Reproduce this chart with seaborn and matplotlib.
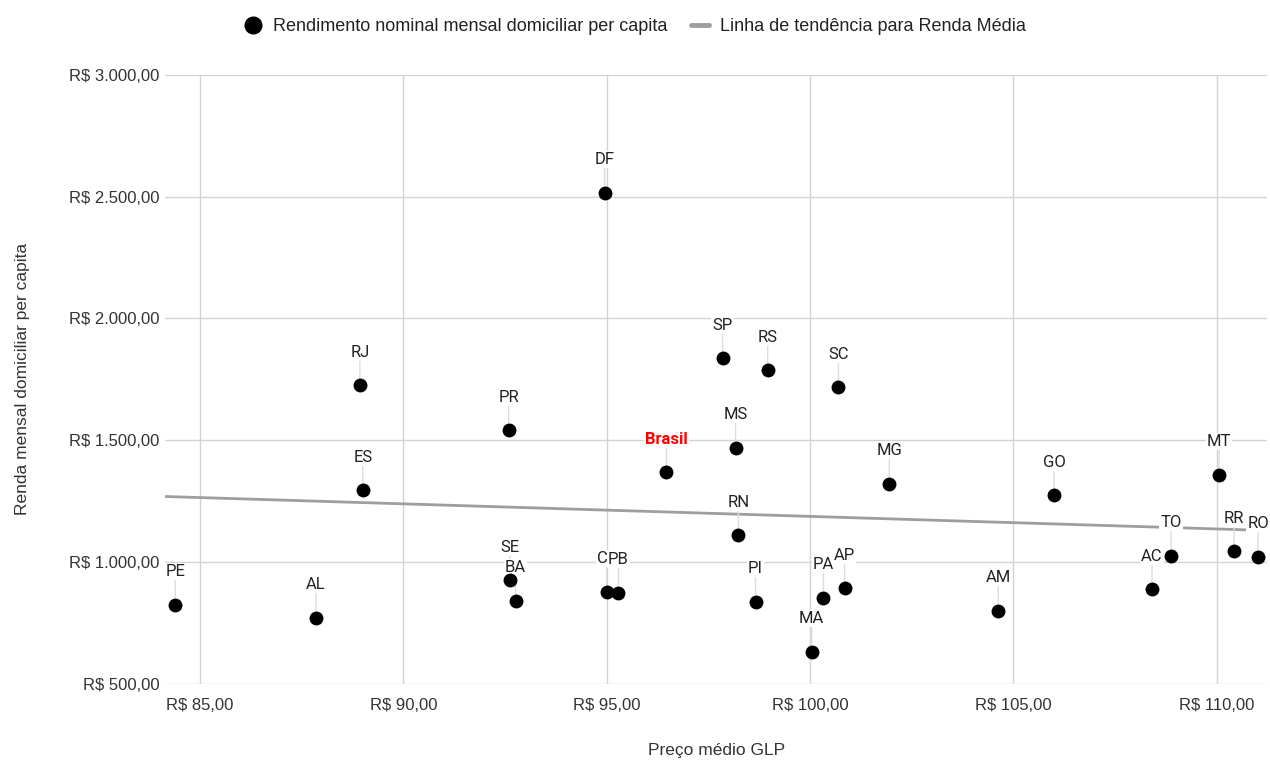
import numpy as np
import pandas as pd
import matplotlib
matplotlib.use("Agg")
import matplotlib.pyplot as plt
from matplotlib.ticker import FuncFormatter
from matplotlib.lines import Line2D
import seaborn as sns

# Dados
estados = ["PE", "AL", "RJ", "ES", "SE", "BA", "PR", "DF", "CE", "PB", "Brasil",
           "SP", "MS", "RN", "PI", "RS", "MA", "PA", "AP", "SC", "MG", "AM",
           "GO", "AC", "TO", "MT", "RR", "RO"]
preco_glp = [84.39, 87.85, 88.93, 89.00, 92.62, 92.76, 92.59, 94.95, 95.00, 95.29, 96.47,
             97.85, 98.17, 98.24, 98.66, 98.96, 100.04, 100.33, 100.85, 100.70, 101.95, 104.63,
             106.00, 108.41, 108.88, 110.06, 110.43, 111.02]
renda = [825, 771, 1725, 1294, 924, 841, 1540, 2515, 878, 874, 1368,
         1836, 1470, 1109, 837, 1787, 632, 854, 891, 1717, 1322, 800,
         1273, 887, 1026, 1359, 1043, 1022]

df = pd.DataFrame({"estado": estados, "preco": preco_glp, "renda": renda})

sns.set_style("white")
plt.rcParams["font.family"] = ["Liberation Sans", "DejaVu Sans"]

fig = plt.figure(figsize=(12.7, 7.6), dpi=100)
ax = fig.add_axes([0.130, 0.1004, 0.868, 0.8009])

xmin, xmax = 84.14, 111.25
ax.set_xlim(xmin, xmax)
ax.set_ylim(500, 3000)

# linha de tendência (regressão linear)
coef = np.polyfit(df["preco"], df["renda"], 1)
xs = np.array([xmin, xmax])
trend = pd.DataFrame({"x": xs, "y": np.polyval(coef, xs)})
sns.lineplot(data=trend, x="x", y="y", color="#9e9e9e", linewidth=2, ax=ax, zorder=2)

sns.scatterplot(data=df, x="preco", y="renda", color="black", s=100,
                edgecolor="black", linewidth=0, ax=ax, zorder=4)

for _, r in df.iterrows():
    brasil = r["estado"] == "Brasil"
    ax.annotate(r["estado"], xy=(r["preco"], r["renda"]), xytext=(0, 24),
                textcoords="offset points", ha="center", va="center",
                fontsize=12, family=["Roboto", "DejaVu Sans"], fontstretch="normal",
                color="#ff0000" if brasil else "#222222",
                fontweight="bold" if brasil else "normal",
                bbox=dict(boxstyle="square,pad=0.06", fc="white", ec="none"),
                arrowprops=dict(arrowstyle="-", color="#dddddd", lw=1,
                                shrinkA=0, shrinkB=5),
                zorder=3, annotation_clip=False)

ax.set_xticks([85, 90, 95, 100, 105, 110])
ax.set_yticks([500, 1000, 1500, 2000, 2500, 3000])


def fmt_brl(v, pos=None):
    s = f"{v:,.2f}".replace(",", "X").replace(".", ",").replace("X", ".")
    return f"R$ {s}"


ax.xaxis.set_major_formatter(FuncFormatter(fmt_brl))
ax.yaxis.set_major_formatter(FuncFormatter(fmt_brl))
ax.tick_params(axis="both", length=0, labelsize=12, colors="#333333")
ax.tick_params(axis="y", pad=4)
ax.tick_params(axis="x", pad=10)
ax.grid(True, color="#d3d3d3", linewidth=1)
for sp in ax.spines.values():
    sp.set_visible(False)

ax.set_xlabel("Preço médio GLP", fontsize=12.5, color="#333333", labelpad=22)
ax.set_ylabel("Renda mensal domiciliar per capita", fontsize=12.5, color="#333333", labelpad=28)

handles = [
    Line2D([], [], marker="o", color="black", linestyle="none", markersize=12),
    Line2D([], [], color="#9e9e9e", linewidth=3.5),
]
fig.legend(handles, ["Rendimento nominal mensal domiciliar per capita",
                     "Linha de tendência para Renda Média"],
           loc="center", bbox_to_anchor=(0.5, 0.9645), ncol=2, frameon=False,
           fontsize=13, handlelength=1.0, handletextpad=0.6, columnspacing=1.3,
           labelcolor="#222222")

fig.savefig("out.png", dpi=100)
